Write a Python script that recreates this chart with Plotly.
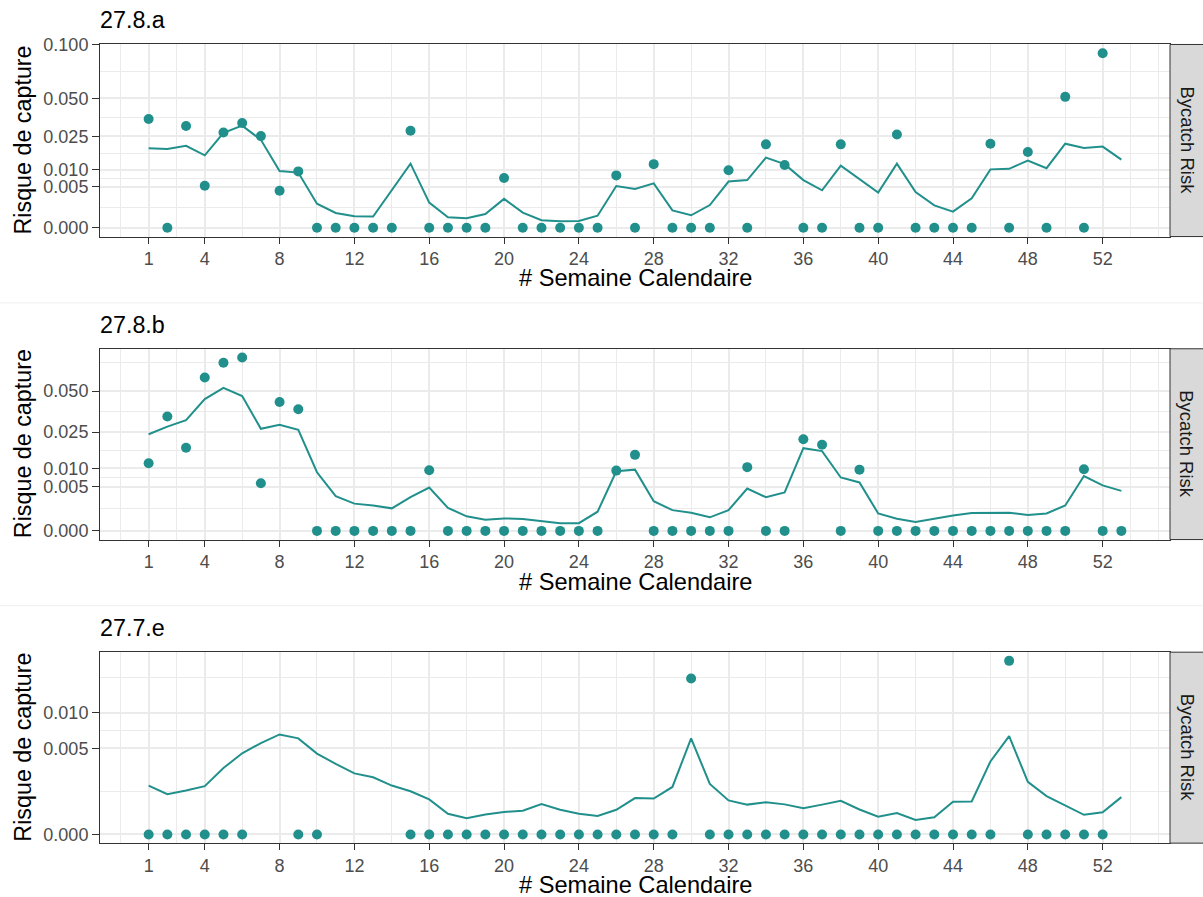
import numpy as np
import plotly.graph_objects as go

W, H = 1203, 897
weeks = list(range(1, 54))
panel_titles = ["27.8.a", "27.8.b", "27.7.e"]
y_title = "Risque de capture"
x_title = "# Semaine Calendaire"
strip_label = "Bycatch Risk"

x_tickvals = [1] + list(range(4, 53, 4))
y_breaks = [0, 0.005, 0.01, 0.025, 0.05, 0.1]
y_labels = ["0.000", "0.005", "0.010", "0.025", "0.050", "0.100"]

line_8a = [0.0189, 0.0186, 0.0201, 0.0157, 0.0269, 0.0312, 0.0231, 0.0096, 0.0091, 0.00173,
           0.00066, 0.0004, 0.000375, 0.0043, 0.0123, 0.0019, 0.00033, 0.00027, 0.00057, 0.0025,
           0.00069, 0.00017, 0.00013, 0.00014, 0.00044, 0.0052, 0.0045, 0.0059, 0.00091, 0.00047,
           0.00155, 0.0064, 0.0068, 0.0147, 0.0121, 0.0068, 0.0042, 0.0115, 0.0071, 0.0037,
           0.0123, 0.0038, 0.0015, 0.00078, 0.0026, 0.0102, 0.0104, 0.0135, 0.0106, 0.0211,
           0.019, 0.0197, 0.0139]
pts_8a = [0.0354, 0, 0.031, 0.0053, 0.0271, 0.0328, 0.0251, 0.0041, 0.0095, 0,
          0, 0, 0, 0, 0.0281, 0, 0, 0, 0, 0.0074,
          0, 0, 0, 0, 0, 0.0082, 0, 0.0121, 0, 0,
          0, 0.0099, 0, 0.0208, 0.0118, 0, 0, 0.0208, 0, 0,
          0.026, 0, 0, 0, 0, 0.0211, 0, 0.0172, 0, 0.0512,
          0, 0.091, None]

line_8b = [0.0239, 0.0278, 0.0314, 0.0445, 0.0524, 0.0465, 0.0267, 0.0288, 0.0261, 0.0088,
           0.0031, 0.0019, 0.00165, 0.0013, 0.0029, 0.0048, 0.00136, 0.00054, 0.00032, 0.0004,
           0.00036, 0.00023, 0.00015, 0.00015, 0.00094, 0.0091, 0.0096, 0.00225, 0.0011, 0.00084,
           0.00047, 0.0011, 0.0046, 0.0029, 0.0038, 0.0175, 0.0163, 0.0073, 0.006, 0.00078,
           0.00038, 0.0002, 0.00038, 0.00061, 0.00081, 0.00081, 0.00084, 0.00064, 0.00078, 0.00165,
           0.0077, 0.0053, 0.0041]
pts_8b = [0.0117, 0.0335, 0.0177, 0.0602, 0.0724, 0.077, 0.0058, 0.0425, 0.0379, 0,
          0, 0, 0, 0, 0, 0.0094, 0, 0, 0, 0,
          0, 0, 0, 0, 0, 0.0093, 0.0148, 0, 0, 0,
          0, 0, 0.0104, 0, 0, 0.0215, 0.019, 0, 0.0096, 0,
          0, 0, 0, 0, 0, 0, 0, 0, 0, 0,
          0.0097, 0, 0]

line_7e = [0.00161, 0.00109, 0.0013, 0.00157, 0.00297, 0.00444, 0.00563, 0.00674, 0.00622, 0.00441,
           0.00336, 0.00251, 0.0022, 0.00161, 0.00126, 0.00083, 0.00029, 0.00018, 0.00027, 0.00034,
           0.00038, 0.00062, 0.00041, 0.00029, 0.00023, 0.00041, 0.00089, 0.00087, 0.00152, 0.00622,
           0.00172, 0.00078, 0.0006, 0.0007, 0.00061, 0.00046, 0.0006, 0.00076, 0.00042, 0.00021,
           0.00031, 0.00014, 0.0002, 0.00072, 0.00073, 0.00359, 0.00652, 0.00186, 0.00099, 0.00057,
           0.00026, 0.00033, 0.00094]
pts_7e = [0, 0, 0, 0, 0, 0, None, None, 0, 0,
          None, None, None, None, 0, 0, 0, 0, 0, 0,
          0, 0, 0, 0, 0, 0, 0, 0, 0, 0.0164,
          0, 0, 0, 0, 0, 0, 0, 0, 0, 0,
          0, 0, 0, 0, 0, 0, 0.0203, 0, 0, 0,
          0, 0, None]

lines = [line_8a, line_8b, line_7e]
points = [pts_8a, pts_8b, pts_7e]

COL = "#21908C"
FONT = "Liberation Sans"

# target pixel geometry (top, bottom) for each panel
panels_px = [(44.0, 236.7), (349.3, 540.7), (653.7, 845.3)]
titles_px = [19.5, 325.3, 629.0]
xtitles_px = [278.5, 583.0, 887.7]
seps_px = [303.3, 607.0]
x_left, x_right = 100.0, 1170.0

# vertical correction for the capture (observed offset/scale)
V_OFF, V_SCALE = 8.4, 0.991


def sq(v):
    return None if v is None else float(np.sqrt(v))


def px(x):
    return x / W


def py(y):
    yd = (y - V_OFF) / V_SCALE
    return 1 - yd / H


sq_breaks = [float(np.sqrt(b)) for b in y_breaks]
y_minor = [(sq_breaks[i] + sq_breaks[i + 1]) / 2 for i in range(len(sq_breaks) - 1)]
x_minor = [-0.5, 2.5] + [v + 2 for v in range(4, 52, 4)] + [53.5, 55]

fig = go.Figure()
layout = dict(
    width=W, height=H, margin=dict(l=0, r=0, t=0, b=0),
    paper_bgcolor="white", plot_bgcolor="white", showlegend=False,
    font=dict(family=FONT),
)
annotations = []
shapes = []

for i in range(3):
    n = "" if i == 0 else str(i + 1)
    top, bot = panels_px[i]
    ys_line = [sq(v) for v in lines[i]]
    ys_pts = [sq(v) for v in points[i]]
    fig.add_trace(go.Scatter(x=weeks, y=ys_line, mode="lines",
                             line=dict(color=COL, width=2), xaxis="x" + n, yaxis="y" + n,
                             hoverinfo="skip"))
    fig.add_trace(go.Scatter(x=weeks, y=ys_pts, mode="markers",
                             marker=dict(color=COL, size=10), xaxis="x" + n, yaxis="y" + n,
                             hoverinfo="skip"))
    mx = max(v for v in ys_pts + ys_line if v is not None)
    yr = [-0.05 * mx, 1.05 * mx]
    layout["xaxis" + n] = dict(
        domain=[px(x_left), px(x_right)], anchor="y" + n, range=[-1.6, 55.6],
        tickmode="array", tickvals=x_tickvals, ticktext=[str(v) for v in x_tickvals],
        ticks="outside", ticklen=6, tickcolor="#333333", tickwidth=1,
        tickfont=dict(size=18, color="#4D4D4D", family=FONT),
        showgrid=True, gridcolor="#EBEBEB", gridwidth=1.5,
        minor=dict(tickmode="array", tickvals=x_minor, showgrid=True,
                   gridcolor="#EBEBEB", gridwidth=0.8, ticks=""),
        showline=True, mirror=True, linecolor="#333333", linewidth=1, zeroline=False,
    )
    layout["yaxis" + n] = dict(
        domain=[py(bot), py(top)], anchor="x" + n, range=yr,
        tickmode="array", tickvals=sq_breaks, ticktext=y_labels,
        ticks="outside", ticklen=7, tickcolor="#333333", tickwidth=1,
        tickfont=dict(size=18, color="#4D4D4D", family=FONT),
        showgrid=True, gridcolor="#EBEBEB", gridwidth=1.5,
        minor=dict(tickmode="array", tickvals=y_minor, showgrid=True,
                   gridcolor="#EBEBEB", gridwidth=0.8, ticks=""),
        showline=True, mirror=True, linecolor="#333333", linewidth=1, zeroline=False,
    )
    # panel title
    annotations.append(dict(text=panel_titles[i], x=px(98), y=py(titles_px[i]), xref="paper",
                            yref="paper", xanchor="left", yanchor="middle", showarrow=False,
                            font=dict(size=23.3, color="black", family=FONT)))
    # y title
    annotations.append(dict(text=y_title, x=px(23), y=py((top + bot) / 2), xref="paper", yref="paper",
                            xanchor="center", yanchor="middle", textangle=-90, showarrow=False,
                            font=dict(size=23.3, color="black", family=FONT)))
    # x title
    annotations.append(dict(text=x_title, x=px((x_left + x_right) / 2), y=py(xtitles_px[i]),
                            xref="paper", yref="paper", xanchor="center", yanchor="middle",
                            showarrow=False, font=dict(size=23.6, color="black", family=FONT)))
    # strip
    shapes.append(dict(type="rect", xref="paper", yref="paper", x0=px(x_right), x1=px(1204),
                       y0=py(bot), y1=py(top), fillcolor="#D9D9D9",
                       line=dict(color="#333333", width=1), layer="above"))
    annotations.append(dict(text=strip_label, x=px(1187), y=py((top + bot) / 2), xref="paper",
                            yref="paper", xanchor="center", yanchor="middle", textangle=90,
                            showarrow=False, font=dict(size=18.5, color="#1A1A1A", family=FONT)))

# faint separators between stacked figures
for ysep in seps_px:
    shapes.append(dict(type="line", xref="paper", yref="paper", x0=0, x1=1, y0=py(ysep), y1=py(ysep),
                       line=dict(color="#EEEEEE", width=1)))

layout["annotations"] = annotations
layout["shapes"] = shapes
fig.update_layout(**layout)

pin = (
    "var d=document.getElementById('{plot_id}');"
    "var css='margin:0;padding:0;overflow:hidden;width:1203px;height:897px;';"
    "document.documentElement.style.cssText=css;document.body.style.cssText=css;"
    "d.style.position='absolute';d.style.left='0px';d.style.top='0px';"
    "d.style.margin='0';"
    "window.scrollTo(0,0);"
)
fig.write_html("out.html", post_script=pin, config={"displayModeBar": False})
